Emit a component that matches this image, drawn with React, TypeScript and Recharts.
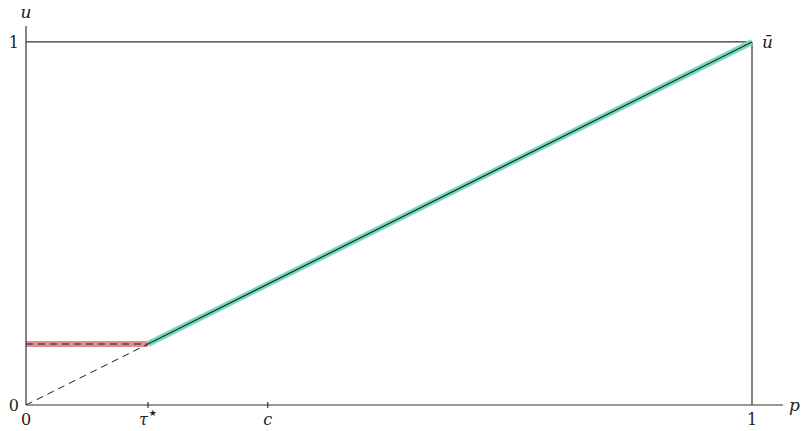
import React from 'react';
import { ComposedChart, Line, XAxis, YAxis, ReferenceLine, ReferenceDot } from 'recharts';

const tauStar = 0.168;
const cValue = 0.333;
const xTickValues = [0, tauStar, cValue, 1];
const xTickLabels = ['0', 'τ', 'c', '1'];
const yTickValues = [0, 1];
const yTickLabels = ['0', '1'];

const redBand = [
  { p: 0, u: tauStar },
  { p: tauStar, u: tauStar },
];
const diagonalDashed = [
  { p: 0, u: 0 },
  { p: tauStar, u: tauStar },
];
const tealLine = [
  { p: tauStar, u: tauStar },
  { p: 1, u: 1 },
];

const xMax = 1.0427;
const yMax = 1.044;
const axisColor = '#333';
const fontFamily = '"DejaVu Serif", serif';

const XTick = (props: any) => {
  const { x, y, payload } = props;
  const idx = xTickValues.indexOf(payload.value);
  const label = xTickLabels[idx];
  const italic = label === 'τ' || label === 'c';
  const showMark = payload.value === tauStar || payload.value === cValue;
  const axisY = y - 8;
  return (
    <g>
      {showMark && <line x1={x} x2={x} y1={axisY - 3} y2={axisY + 3} stroke={axisColor} strokeWidth={1.2} />}
      <text
        x={x}
        y={axisY + 20}
        textAnchor="middle"
        fontFamily={fontFamily}
        fontSize={16}
        fontStyle={italic ? 'italic' : 'normal'}
        fill="#222"
      >
        {label}
        {label === 'τ' && (
          <tspan fontSize={9} dy={-9} dx={1} fontStyle="normal" fontFamily='"DejaVu Sans", sans-serif'>★</tspan>
        )}
      </text>
    </g>
  );
};

const YTick = (props: any) => {
  const { x, y, payload } = props;
  const idx = yTickValues.indexOf(payload.value);
  return (
    <text x={x + 1} y={y + 6} textAnchor="end" fontFamily={fontFamily} fontSize={16} fill="#222">
      {yTickLabels[idx]}
    </text>
  );
};

export default function App() {
  return (
    <div style={{ position: 'absolute', left: 0, top: 0, width: 805, height: 431, background: '#fff' }}>
      <ComposedChart width={805} height={431} margin={{ top: 26, right: 22, bottom: 0, left: 6 }}>
        <XAxis
          type="number"
          dataKey="p"
          domain={[0, xMax]}
          ticks={xTickValues}
          tick={<XTick />}
          tickLine={false}
          height={26}
          axisLine={{ stroke: axisColor, strokeWidth: 1.2 }}
          allowDataOverflow
        />
        <YAxis
          type="number"
          dataKey="u"
          domain={[0, yMax]}
          ticks={yTickValues}
          tick={<YTick />}
          tickLine={false}
          width={20}
          axisLine={{ stroke: axisColor, strokeWidth: 1.2 }}
          allowDataOverflow
        />
        <ReferenceLine segment={[{ x: 0, y: 1 }, { x: 1, y: 1 }]} stroke={axisColor} strokeWidth={1.2} />
        <ReferenceLine segment={[{ x: 1, y: 0 }, { x: 1, y: 1 }]} stroke={axisColor} strokeWidth={1.2} />
        <Line data={redBand} dataKey="u" stroke="#e08c90" strokeWidth={6} dot={false} isAnimationActive={false} />
        <Line data={redBand} dataKey="u" stroke="#1a1a1a" strokeWidth={1.1} strokeDasharray="7 5" dot={false} isAnimationActive={false} />
        <Line data={diagonalDashed} dataKey="u" stroke="#1a1a1a" strokeWidth={1} strokeDasharray="7 5" dot={false} isAnimationActive={false} />
        <Line data={tealLine} dataKey="u" stroke="#7ad8c2" strokeWidth={6} dot={false} isAnimationActive={false} />
        <Line data={tealLine} dataKey="u" stroke="#10392f" strokeWidth={1.3} dot={false} isAnimationActive={false} />
        <ReferenceDot
          x={1}
          y={1}
          r={0}
          fill="none"
          stroke="none"
          label={{ value: 'ū', position: 'right', offset: 10, fontFamily, fontSize: 17, fontStyle: 'italic', fill: '#222' }}
        />
        <ReferenceDot
          x={0}
          y={yMax}
          r={0}
          fill="none"
          stroke="none"
          label={{ value: 'u', position: 'top', offset: 8, fontFamily, fontSize: 17, fontStyle: 'italic', fill: '#222' }}
        />
        <ReferenceDot
          x={xMax}
          y={0}
          r={0}
          fill="none"
          stroke="none"
          label={{ value: 'p', position: 'right', offset: 6, fontFamily, fontSize: 17, fontStyle: 'italic', fill: '#222' }}
        />
      </ComposedChart>
    </div>
  );
}
